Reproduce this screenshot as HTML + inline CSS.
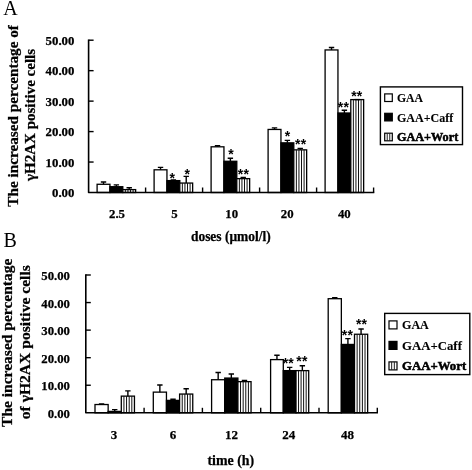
<!DOCTYPE html>
<html><head><meta charset="utf-8"><title>Figure</title>
<style>html,body{margin:0;padding:0;background:#fff}svg{display:block;will-change:transform}
text{font-family:"Liberation Serif",serif;fill:#000;font-weight:bold;stroke:#000;stroke-width:0.25px}
.ytA{font-size:11.7px}.ytB{font-size:13.5px}.xtA{font-size:12.8px}.xtB{font-size:13px}
.ylA{font-size:15px}.ylB{font-size:15.5px}.xlA{font-size:13.8px}.xlB{font-size:14.5px}
.lt{font-size:20px;font-weight:normal;stroke:none}.lgA{font-size:12px;stroke-width:0.1px}.lgB{font-size:12.5px;stroke-width:0.1px}.lgb{stroke-width:0.5px}
.st{font-size:14.0px;font-family:"Liberation Sans",sans-serif;text-anchor:middle;stroke:none;font-weight:bold}
</style></head><body>
<svg width="472" height="470" viewBox="0 0 472 470">
<rect width="472" height="470" fill="#fff"/>
<rect x="97.10" y="184.28" width="12.85" height="8.22" fill="#fff" stroke="#000" stroke-width="1.3"/>
<path d="M103.52 184.28V181.99M100.82 181.99H106.22" stroke="#000" stroke-width="1.4" fill="none"/>
<rect x="109.95" y="186.71" width="12.85" height="5.79" fill="#000" stroke="#000" stroke-width="1.3"/>
<path d="M116.37 186.71V184.89M113.67 184.89H119.07" stroke="#000" stroke-width="1.4" fill="none"/>
<rect x="122.80" y="189.61" width="12.85" height="2.89" fill="#fff" stroke="#000" stroke-width="1.3"/>
<path d="M125.37 189.61V192.50M127.94 189.61V192.50M130.51 189.61V192.50M133.08 189.61V192.50" stroke="#111" stroke-width="1" fill="none"/>
<path d="M129.22 189.61V187.78M126.52 187.78H131.92" stroke="#000" stroke-width="1.4" fill="none"/>
<rect x="154.10" y="169.81" width="12.85" height="22.69" fill="#fff" stroke="#000" stroke-width="1.3"/>
<path d="M160.53 169.81V167.37M157.83 167.37H163.22" stroke="#000" stroke-width="1.4" fill="none"/>
<rect x="166.95" y="180.62" width="12.85" height="11.88" fill="#000" stroke="#000" stroke-width="1.3"/>
<path d="M173.38 180.62V180.01M170.68 180.01H176.07" stroke="#000" stroke-width="1.4" fill="none"/>
<rect x="179.80" y="183.06" width="12.85" height="9.44" fill="#fff" stroke="#000" stroke-width="1.3"/>
<path d="M182.37 183.06V192.50M184.94 183.06V192.50M187.51 183.06V192.50M190.08 183.06V192.50" stroke="#111" stroke-width="1" fill="none"/>
<path d="M186.22 183.06V176.36M183.53 176.36H188.92" stroke="#000" stroke-width="1.4" fill="none"/>
<rect x="211.10" y="146.81" width="12.85" height="45.69" fill="#fff" stroke="#000" stroke-width="1.3"/>
<path d="M217.53 146.81V145.74M214.83 145.74H220.22" stroke="#000" stroke-width="1.4" fill="none"/>
<rect x="223.95" y="161.28" width="12.85" height="31.22" fill="#000" stroke="#000" stroke-width="1.3"/>
<path d="M230.38 161.28V158.23M227.68 158.23H233.07" stroke="#000" stroke-width="1.4" fill="none"/>
<rect x="236.80" y="178.64" width="12.85" height="13.86" fill="#fff" stroke="#000" stroke-width="1.3"/>
<path d="M239.37 178.64V192.50M241.94 178.64V192.50M244.51 178.64V192.50M247.08 178.64V192.50" stroke="#111" stroke-width="1" fill="none"/>
<path d="M243.22 178.64V177.42M240.53 177.42H245.92" stroke="#000" stroke-width="1.4" fill="none"/>
<rect x="268.10" y="129.45" width="12.85" height="63.05" fill="#fff" stroke="#000" stroke-width="1.3"/>
<path d="M274.53 129.45V127.92M271.83 127.92H277.23" stroke="#000" stroke-width="1.4" fill="none"/>
<rect x="280.95" y="142.85" width="12.85" height="49.65" fill="#000" stroke="#000" stroke-width="1.3"/>
<path d="M287.38 142.85V140.41M284.68 140.41H290.08" stroke="#000" stroke-width="1.4" fill="none"/>
<rect x="293.80" y="149.86" width="12.85" height="42.64" fill="#fff" stroke="#000" stroke-width="1.3"/>
<path d="M296.37 149.86V192.50M298.94 149.86V192.50M301.51 149.86V192.50M304.08 149.86V192.50" stroke="#111" stroke-width="1" fill="none"/>
<path d="M300.23 149.86V148.33M297.53 148.33H302.93" stroke="#000" stroke-width="1.4" fill="none"/>
<rect x="325.10" y="49.95" width="12.85" height="142.55" fill="#fff" stroke="#000" stroke-width="1.3"/>
<path d="M331.53 49.95V47.51M328.83 47.51H334.23" stroke="#000" stroke-width="1.4" fill="none"/>
<rect x="337.95" y="113.00" width="12.85" height="79.50" fill="#000" stroke="#000" stroke-width="1.3"/>
<path d="M344.38 113.00V110.26M341.68 110.26H347.08" stroke="#000" stroke-width="1.4" fill="none"/>
<rect x="350.80" y="99.60" width="12.85" height="92.90" fill="#fff" stroke="#000" stroke-width="1.3"/>
<path d="M353.37 99.60V192.50M355.94 99.60V192.50M358.51 99.60V192.50M361.08 99.60V192.50" stroke="#111" stroke-width="1" fill="none"/>
<path d="M357.23 99.60V99.60M354.53 99.60H359.93" stroke="#000" stroke-width="1.4" fill="none"/>
<text x="172.2" y="182.6" class="st">*</text>
<text x="187.3" y="179.1" class="st">*</text>
<text x="231.0" y="159.3" class="st">*</text>
<text x="240.6" y="179.1" class="st">*</text><text x="246.2" y="179.1" class="st">*</text>
<text x="287.4" y="140.6" class="st">*</text>
<text x="297.8" y="148.8" class="st">*</text><text x="303.4" y="148.8" class="st">*</text>
<text x="340.6" y="112.4" class="st">*</text><text x="346.2" y="112.4" class="st">*</text>
<text x="353.9" y="100.9" class="st">*</text><text x="359.5" y="100.9" class="st">*</text>
<path d="M88.60 39.50V192.50H374.30" stroke="#000" stroke-width="1.6" fill="none" stroke-linejoin="round"/>
<text x="74.4" y="197.2" class="ytA" text-anchor="end" textLength="22.4" lengthAdjust="spacingAndGlyphs">0.00</text>
<path d="M88.60 162.04h5" stroke="#000" stroke-width="1.4"/>
<text x="74.4" y="166.7" class="ytA" text-anchor="end" textLength="28.8" lengthAdjust="spacingAndGlyphs">10.00</text>
<path d="M88.60 131.58h5" stroke="#000" stroke-width="1.4"/>
<text x="74.4" y="136.3" class="ytA" text-anchor="end" textLength="28.8" lengthAdjust="spacingAndGlyphs">20.00</text>
<path d="M88.60 101.12h5" stroke="#000" stroke-width="1.4"/>
<text x="74.4" y="105.8" class="ytA" text-anchor="end" textLength="28.8" lengthAdjust="spacingAndGlyphs">30.00</text>
<path d="M88.60 70.66h5" stroke="#000" stroke-width="1.4"/>
<text x="74.4" y="75.4" class="ytA" text-anchor="end" textLength="28.8" lengthAdjust="spacingAndGlyphs">40.00</text>
<path d="M88.60 40.20h5" stroke="#000" stroke-width="1.4"/>
<text x="74.4" y="44.9" class="ytA" text-anchor="end" textLength="28.8" lengthAdjust="spacingAndGlyphs">50.00</text>
<path d="M145.60 192.50v-5" stroke="#000" stroke-width="1.4"/>
<path d="M202.60 192.50v-5" stroke="#000" stroke-width="1.4"/>
<path d="M259.60 192.50v-5" stroke="#000" stroke-width="1.4"/>
<path d="M316.60 192.50v-5" stroke="#000" stroke-width="1.4"/>
<path d="M373.60 192.50v-5" stroke="#000" stroke-width="1.4"/>
<text x="117.0" y="218.0" class="xtA" text-anchor="middle">2.5</text>
<text x="174.5" y="218.0" class="xtA" text-anchor="middle">5</text>
<text x="231.7" y="218.0" class="xtA" text-anchor="middle">10</text>
<text x="287.2" y="218.0" class="xtA" text-anchor="middle">20</text>
<text x="344.3" y="218.0" class="xtA" text-anchor="middle">40</text>
<text transform="translate(17.5 115.9) rotate(-90)" class="ylA" text-anchor="middle" textLength="181.6" lengthAdjust="spacingAndGlyphs">The increased percentage of</text>
<text transform="translate(34.5 114.9) rotate(-90)" class="ylA" text-anchor="middle" textLength="132.0" lengthAdjust="spacingAndGlyphs">γH2AX positive cells</text>
<text x="230.8" y="241.3" class="xlA" text-anchor="middle" textLength="79.7" lengthAdjust="spacingAndGlyphs">doses (μmol/l)</text>
<text x="3.2" y="15.3" class="lt">A</text>
<rect x="380.40" y="86.90" width="82.10" height="57.70" fill="#fff" stroke="#000" stroke-width="1.4"/>
<rect x="384.70" y="93.90" width="7.60" height="7.60" fill="#fff" stroke="#000" stroke-width="1.2"/>
<text x="397.0" y="102.0" class="lgA" textLength="26.0" lengthAdjust="spacingAndGlyphs">GAA</text>
<rect x="384.70" y="113.30" width="7.60" height="7.60" fill="#000" stroke="#000" stroke-width="1.2"/>
<text x="397.0" y="121.5" class="lgA" textLength="56.2" lengthAdjust="spacingAndGlyphs">GAA+Caff</text>
<rect x="384.70" y="133.20" width="7.60" height="7.60" fill="#fff" stroke="#000" stroke-width="1.2"/>
<path d="M387.23 133.20v7.60M389.77 133.20v7.60" stroke="#222" stroke-width="1"/>
<text x="397.0" y="140.9" class="lgA lgb" textLength="61.2" lengthAdjust="spacingAndGlyphs">GAA+Wort</text>
<rect x="95.00" y="404.53" width="13.15" height="8.27" fill="#fff" stroke="#000" stroke-width="1.3"/>
<path d="M101.58 404.53V403.98M98.88 403.98H104.28" stroke="#000" stroke-width="1.4" fill="none"/>
<rect x="108.15" y="411.42" width="13.15" height="1.38" fill="#000" stroke="#000" stroke-width="1.3"/>
<path d="M114.73 411.42V409.63M112.03 409.63H117.43" stroke="#000" stroke-width="1.4" fill="none"/>
<rect x="121.30" y="396.13" width="13.15" height="16.67" fill="#fff" stroke="#000" stroke-width="1.3"/>
<path d="M123.93 396.13V412.80M126.56 396.13V412.80M129.19 396.13V412.80M131.82 396.13V412.80" stroke="#111" stroke-width="1" fill="none"/>
<path d="M127.88 396.13V390.89M125.17 390.89H130.57" stroke="#000" stroke-width="1.4" fill="none"/>
<rect x="153.30" y="392.13" width="13.15" height="20.67" fill="#fff" stroke="#000" stroke-width="1.3"/>
<path d="M159.87 392.13V384.96M157.17 384.96H162.57" stroke="#000" stroke-width="1.4" fill="none"/>
<rect x="166.45" y="400.40" width="13.15" height="12.40" fill="#000" stroke="#000" stroke-width="1.3"/>
<path d="M173.02 400.40V399.30M170.32 399.30H175.72" stroke="#000" stroke-width="1.4" fill="none"/>
<rect x="179.60" y="394.06" width="13.15" height="18.74" fill="#fff" stroke="#000" stroke-width="1.3"/>
<path d="M182.23 394.06V412.80M184.86 394.06V412.80M187.49 394.06V412.80M190.12 394.06V412.80" stroke="#111" stroke-width="1" fill="none"/>
<path d="M186.17 394.06V388.82M183.47 388.82H188.87" stroke="#000" stroke-width="1.4" fill="none"/>
<rect x="211.60" y="379.73" width="13.15" height="33.07" fill="#fff" stroke="#000" stroke-width="1.3"/>
<path d="M218.17 379.73V372.56M215.47 372.56H220.87" stroke="#000" stroke-width="1.4" fill="none"/>
<rect x="224.75" y="378.07" width="13.15" height="34.73" fill="#000" stroke="#000" stroke-width="1.3"/>
<path d="M231.32 378.07V373.94M228.62 373.94H234.02" stroke="#000" stroke-width="1.4" fill="none"/>
<rect x="237.90" y="381.66" width="13.15" height="31.14" fill="#fff" stroke="#000" stroke-width="1.3"/>
<path d="M240.53 381.66V412.80M243.16 381.66V412.80M245.79 381.66V412.80M248.42 381.66V412.80" stroke="#111" stroke-width="1" fill="none"/>
<path d="M244.47 381.66V380.55M241.77 380.55H247.17" stroke="#000" stroke-width="1.4" fill="none"/>
<rect x="270.60" y="359.61" width="12.70" height="53.19" fill="#fff" stroke="#000" stroke-width="1.3"/>
<path d="M276.95 359.61V355.20M274.25 355.20H279.65" stroke="#000" stroke-width="1.4" fill="none"/>
<rect x="283.30" y="370.63" width="12.70" height="42.17" fill="#000" stroke="#000" stroke-width="1.3"/>
<path d="M289.65 370.63V367.33M286.95 367.33H292.35" stroke="#000" stroke-width="1.4" fill="none"/>
<rect x="296.00" y="370.63" width="12.70" height="42.17" fill="#fff" stroke="#000" stroke-width="1.3"/>
<path d="M298.54 370.63V412.80M301.08 370.63V412.80M303.62 370.63V412.80M306.16 370.63V412.80" stroke="#111" stroke-width="1" fill="none"/>
<path d="M302.35 370.63V365.81M299.65 365.81H305.05" stroke="#000" stroke-width="1.4" fill="none"/>
<rect x="328.20" y="298.70" width="13.15" height="114.10" fill="#fff" stroke="#000" stroke-width="1.3"/>
<path d="M334.77 298.70V297.74M332.07 297.74H337.47" stroke="#000" stroke-width="1.4" fill="none"/>
<rect x="341.35" y="344.45" width="13.15" height="68.35" fill="#000" stroke="#000" stroke-width="1.3"/>
<path d="M347.92 344.45V338.66M345.22 338.66H350.62" stroke="#000" stroke-width="1.4" fill="none"/>
<rect x="354.50" y="334.25" width="13.15" height="78.55" fill="#fff" stroke="#000" stroke-width="1.3"/>
<path d="M357.13 334.25V412.80M359.76 334.25V412.80M362.39 334.25V412.80M365.02 334.25V412.80" stroke="#111" stroke-width="1" fill="none"/>
<path d="M361.07 334.25V329.02M358.38 329.02H363.77" stroke="#000" stroke-width="1.4" fill="none"/>
<text x="285.5" y="367.5" class="st">*</text><text x="291.1" y="367.5" class="st">*</text>
<text x="299.1" y="365.9" class="st">*</text><text x="304.7" y="365.9" class="st">*</text>
<text x="344.6" y="339.9" class="st">*</text><text x="350.2" y="339.9" class="st">*</text>
<text x="358.7" y="329.0" class="st">*</text><text x="364.3" y="329.0" class="st">*</text>
<path d="M85.80 274.30V412.80H378.00" stroke="#000" stroke-width="1.6" fill="none" stroke-linejoin="round"/>
<text x="70.0" y="417.9" class="ytB" text-anchor="end" textLength="22.3" lengthAdjust="spacingAndGlyphs">0.00</text>
<path d="M85.80 385.24h5" stroke="#000" stroke-width="1.4"/>
<text x="70.0" y="390.3" class="ytB" text-anchor="end" textLength="28.7" lengthAdjust="spacingAndGlyphs">10.00</text>
<path d="M85.80 357.68h5" stroke="#000" stroke-width="1.4"/>
<text x="70.0" y="362.8" class="ytB" text-anchor="end" textLength="28.7" lengthAdjust="spacingAndGlyphs">20.00</text>
<path d="M85.80 330.12h5" stroke="#000" stroke-width="1.4"/>
<text x="70.0" y="335.2" class="ytB" text-anchor="end" textLength="28.7" lengthAdjust="spacingAndGlyphs">30.00</text>
<path d="M85.80 302.56h5" stroke="#000" stroke-width="1.4"/>
<text x="70.0" y="307.7" class="ytB" text-anchor="end" textLength="28.7" lengthAdjust="spacingAndGlyphs">40.00</text>
<path d="M85.80 275.00h5" stroke="#000" stroke-width="1.4"/>
<text x="70.0" y="280.1" class="ytB" text-anchor="end" textLength="28.7" lengthAdjust="spacingAndGlyphs">50.00</text>
<path d="M144.10 412.80v-5" stroke="#000" stroke-width="1.4"/>
<path d="M202.40 412.80v-5" stroke="#000" stroke-width="1.4"/>
<path d="M260.70 412.80v-5" stroke="#000" stroke-width="1.4"/>
<path d="M319.00 412.80v-5" stroke="#000" stroke-width="1.4"/>
<path d="M377.30 412.80v-5" stroke="#000" stroke-width="1.4"/>
<text x="114.0" y="438.9" class="xtB" text-anchor="middle">3</text>
<text x="173.0" y="438.9" class="xtB" text-anchor="middle">6</text>
<text x="231.4" y="438.9" class="xtB" text-anchor="middle">12</text>
<text x="288.7" y="438.9" class="xtB" text-anchor="middle">24</text>
<text x="347.5" y="438.9" class="xtB" text-anchor="middle">48</text>
<text transform="translate(11.6 342.8) rotate(-90)" class="ylB" text-anchor="middle" textLength="168.3" lengthAdjust="spacingAndGlyphs">The increased percentage</text>
<text transform="translate(29.7 342.2) rotate(-90)" class="ylB" text-anchor="middle" textLength="154.0" lengthAdjust="spacingAndGlyphs">of γH2AX positive cells</text>
<text x="230.8" y="465.0" class="xlB" text-anchor="middle" textLength="46.7" lengthAdjust="spacingAndGlyphs">time (h)</text>
<text x="3.5" y="246.6" class="lt">B</text>
<rect x="384.70" y="313.40" width="85.10" height="61.20" fill="#fff" stroke="#000" stroke-width="1.4"/>
<rect x="389.00" y="320.90" width="8.00" height="8.00" fill="#fff" stroke="#000" stroke-width="1.2"/>
<text x="402.0" y="329.3" class="lgB" textLength="26.8" lengthAdjust="spacingAndGlyphs">GAA</text>
<rect x="389.00" y="341.40" width="8.00" height="8.00" fill="#000" stroke="#000" stroke-width="1.2"/>
<text x="402.0" y="349.8" class="lgB" textLength="59.9" lengthAdjust="spacingAndGlyphs">GAA+Caff</text>
<rect x="389.00" y="361.90" width="8.00" height="8.00" fill="#fff" stroke="#000" stroke-width="1.2"/>
<path d="M391.67 361.90v8.00M394.33 361.90v8.00" stroke="#222" stroke-width="1"/>
<text x="402.0" y="370.1" class="lgB lgb" textLength="64.2" lengthAdjust="spacingAndGlyphs">GAA+Wort</text>
</svg></body></html>
